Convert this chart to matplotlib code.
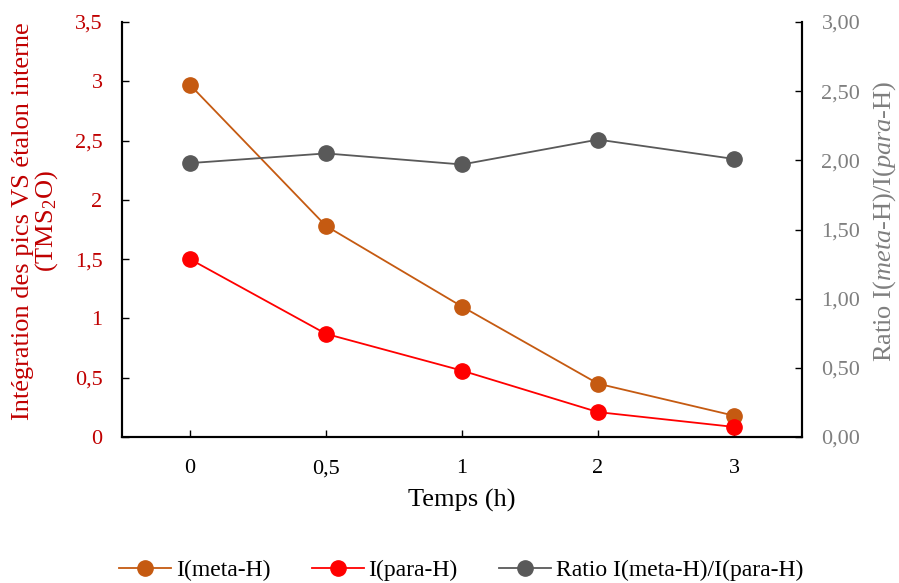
import numpy as np
import matplotlib.pyplot as plt

temps = ['0', '0,5', '1', '2', '3']
i_meta = [2.97, 1.78, 1.10, 0.45, 0.18]
i_para = [1.50, 0.87, 0.56, 0.21, 0.085]
ratio = [1.98, 2.05, 1.97, 2.15, 2.01]

left_ticks = [0, 0.5, 1, 1.5, 2, 2.5, 3, 3.5]
left_labels = ['0', '0,5', '1', '1,5', '2', '2,5', '3', '3,5']
right_ticks = [0, 0.5, 1, 1.5, 2, 2.5, 3]
right_labels = ['0,00', '0,50', '1,00', '1,50', '2,00', '2,50', '3,00']

plt.rcParams['font.family'] = ['Liberation Serif', 'DejaVu Serif']
plt.rcParams['mathtext.fontset'] = 'custom'
plt.rcParams['mathtext.rm'] = 'Liberation Serif'
plt.rcParams['mathtext.it'] = 'Liberation Serif:italic'

c_meta = '#C55A11'
c_para = '#FF0000'
c_ratio = '#595959'
c_left = '#C00000'
c_right = '#7F7F7F'

fig = plt.figure(figsize=(8.99, 5.83), dpi=100)
ax = fig.add_axes([122/899, 1-437/583, 680/899, 415/583])
ax2 = ax.twinx()

x = np.arange(len(temps))
l1, = ax.plot(x, i_meta, color=c_meta, marker='o', markersize=11, lw=1.3, label='I(meta-H)')
l2, = ax.plot(x, i_para, color=c_para, marker='o', markersize=11, lw=1.3, label='I(para-H)')
l3, = ax2.plot(x, ratio, color=c_ratio, marker='o', markersize=11, lw=1.3, label='Ratio I(meta-H)/I(para-H)')

ax.set_xlim(-0.5, len(temps) - 0.5)
ax.set_ylim(0, 3.5)
ax2.set_ylim(0, 3.0)
ax.set_xticks(x)
ax.set_xticklabels(temps)
ax.set_yticks(left_ticks)
ax.set_yticklabels(left_labels)
ax2.set_yticks(right_ticks)
ax2.set_yticklabels(right_labels)

ax.tick_params(axis='x', direction='in', length=5, width=1, labelsize=16, pad=26)
ax.tick_params(axis='y', direction='in', length=5, width=1, labelsize=16, labelcolor=c_left, pad=14)
ax2.tick_params(axis='y', direction='in', length=5, width=1, labelsize=16, labelcolor=c_right, pad=14)
for lab in ax.get_xticklabels():
    lab.set_verticalalignment('baseline')

for a in (ax, ax2):
    for s in a.spines.values():
        s.set_linewidth(1.5)
ax2.spines['top'].set_visible(False)
ax.spines['top'].set_visible(False)

ax.set_xlabel('Temps (h)', fontsize=19, labelpad=8)
ax.set_ylabel('Intégration des pics VS étalon interne\n(TMS$_2$O)', fontsize=19, color=c_left,
              labelpad=11, linespacing=0.95)
ax2.set_ylabel('Ratio I($\\it{meta}$-H)/I($\\it{para}$-H)', fontsize=19, color=c_right, labelpad=8)
ax.yaxis.label.set_y(0.52)
ax2.yaxis.label.set_y(0.52)

fig.legend(handles=[l1, l2, l3], loc='center', bbox_to_anchor=(461/899, 1-570/583), ncol=3,
           frameon=False, fontsize=17, handlelength=2.2, columnspacing=1.75, handletextpad=0.2)

fig.savefig('out.png', dpi=100)
